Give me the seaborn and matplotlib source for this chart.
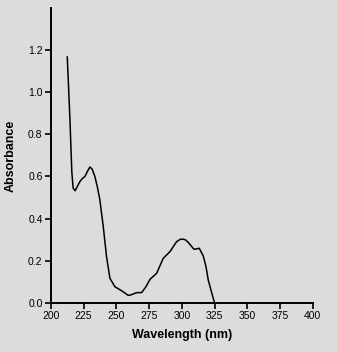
import matplotlib
matplotlib.use("Agg")
import matplotlib.pyplot as plt
import seaborn as sns
import pandas as pd

# UV absorbance spectrum
wavelength = [212.5, 214.5, 216.0, 217.0, 218.5, 220.0, 222.2, 224.0, 226.0, 228.0,
              229.8, 231.5, 233.6, 235.5, 237.4, 240.0, 242.5, 245.1, 248.9, 254.0,
              257.0, 259.0, 261.0, 265.5, 269.3, 272.5, 275.7, 280.8, 285.8, 291.0,
              296.0, 299.0, 301.0, 303.0, 305.0, 309.3, 311.5, 313.3, 316.4, 318.5,
              320.2, 322.5, 324.0, 325.0]
absorbance = [1.169, 0.88, 0.62, 0.545, 0.532, 0.550, 0.576, 0.590, 0.600, 0.625,
              0.645, 0.635, 0.600, 0.550, 0.489, 0.362, 0.219, 0.116, 0.076, 0.057,
              0.044, 0.035, 0.037, 0.048, 0.048, 0.075, 0.111, 0.140, 0.211, 0.243,
              0.290, 0.302, 0.302, 0.298, 0.286, 0.254, 0.256, 0.259, 0.222, 0.170,
              0.108, 0.055, 0.021, 0.0]

x_ticks = [200, 225, 250, 275, 300, 325, 350, 375, 400]
y_ticks = [0.0, 0.2, 0.4, 0.6, 0.8, 1.0, 1.2]
y_tick_labels = ["0.0", "0.2", "0.4", "0.6", "0.8", "1.0", "1.2"]

df = pd.DataFrame({"Wavelength (nm)": wavelength, "Absorbance": absorbance})

sns.set_style("ticks")
plt.rcParams["font.family"] = ["Liberation Sans", "DejaVu Sans"]

bg = "#dcdcdc"
fig = plt.figure(figsize=(3.37, 3.52), dpi=100, facecolor=bg)
ax = fig.add_axes([0.151, 0.140, 0.777, 0.837])
ax.set_facecolor(bg)

sns.lineplot(data=df, x="Wavelength (nm)", y="Absorbance", ax=ax,
             color="black", linewidth=1.1, sort=False)

ax.set_xlim(200, 400)
ax.set_ylim(0, 1.4)
ax.set_xticks(x_ticks)
ax.set_yticks(y_ticks)
ax.set_yticklabels(y_tick_labels)
ax.tick_params(direction="out", length=4, width=1.2, labelsize=7.5,
               colors="black", labelcolor="black", pad=2)

for side in ("top", "right"):
    ax.spines[side].set_visible(False)
for side in ("left", "bottom"):
    ax.spines[side].set_linewidth(1.4)
    ax.spines[side].set_color("black")

ax.set_xlabel("Wavelength (nm)", fontsize=9, fontweight="bold", labelpad=6,
              color="black")
ax.set_ylabel("Absorbance", fontsize=9, fontweight="bold", labelpad=8,
              color="black")

fig.savefig("out.png", dpi=100, facecolor=bg)
